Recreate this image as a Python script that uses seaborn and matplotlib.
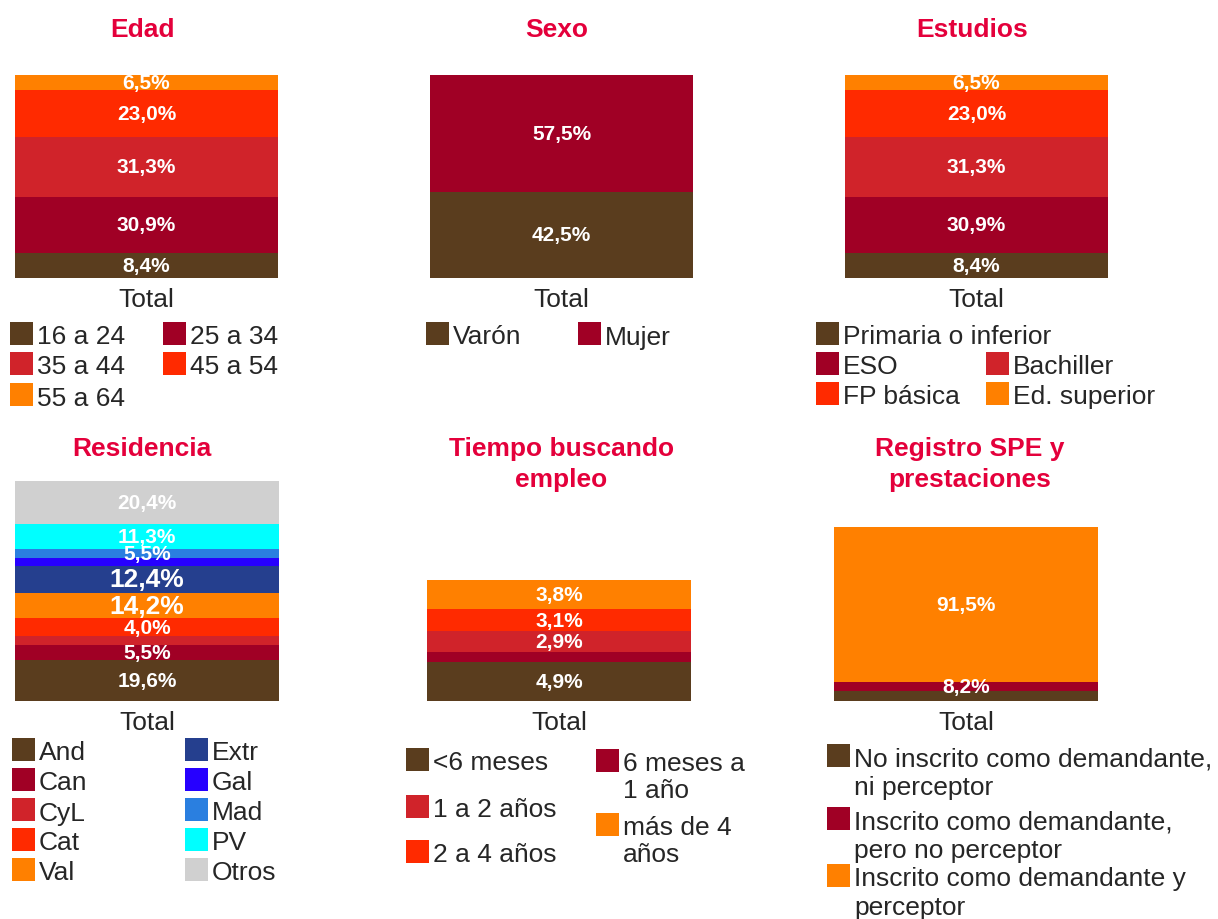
import matplotlib
matplotlib.use("Agg")
import matplotlib.pyplot as plt
from matplotlib.patches import Rectangle
import seaborn as sns
import pandas as pd
import numpy as np

# Colours
BROWN = "#5A3D1E"
DARKRED = "#A00025"
RED = "#D0232A"
ORANGERED = "#FF2A00"
ORANGE = "#FF8000"
NAVY = "#253F8E"
BLUE = "#2600FF"
MAD = "#2A7FE0"
CYAN = "#00FFFF"
GRAY = "#D0D0D0"
TITLE = "#E4003B"
TEXT = "#262626"

# Data (segment heights, labels as printed)
edad_cats = ["16 a 24", "25 a 34", "35 a 44", "45 a 54", "55 a 64"]
edad_vals = [12.3, 27.6, 29.5, 23.2, 7.4]
edad_labels = ["8,4%", "30,9%", "31,3%", "23,0%", "6,5%"]

sexo_cats = ["Varón", "Mujer"]
sexo_vals = [42.5, 57.5]
sexo_labels = ["42,5%", "57,5%"]

estudios_cats = ["Primaria o inferior", "ESO", "Bachiller", "FP básica", "Ed. superior"]
estudios_vals = [12.3, 27.6, 29.5, 23.2, 7.4]
estudios_labels = ["8,4%", "30,9%", "31,3%", "23,0%", "6,5%"]

res_cats = ["And", "Can", "CyL", "Cat", "Val", "Extr", "Gal", "Mad", "PV", "Otros"]
res_vals = [18.6, 6.8, 4.1, 8.2, 11.4, 12.3, 3.6, 4.1, 11.4, 19.5]
res_labels = ["19,6%", "5,5%", "", "4,0%", "14,2%", "12,4%", "", "5,5%", "11,3%", "20,4%"]

tiempo_cats = ["<6 meses", "6 meses a\n1 año", "1 a 2 años", "2 a 4 años", "más de 4\naños"]
tiempo_vals = [17.7, 4.5, 9.5, 10.0, 13.2]
tiempo_labels = ["4,9%", "", "2,9%", "3,1%", "3,8%"]

spe_cats = ["No inscrito como demandante,\nni perceptor",
            "Inscrito como demandante,\npero no perceptor",
            "Inscrito como demandante y\nperceptor"]
spe_vals = [4.5, 4.1, 70.5]
spe_labels = ["", "8,2%", "91,5%"]

five_colors = [BROWN, DARKRED, RED, ORANGERED, ORANGE]
res_colors = [BROWN, DARKRED, RED, ORANGERED, ORANGE, NAVY, BLUE, MAD, CYAN, GRAY]

sns.set_theme(style="white")
plt.rcParams["font.family"] = ["Liberation Sans", "DejaVu Sans"]

W, H = 1218, 920
fig = plt.figure(figsize=(W / 100, H / 100), dpi=100)


def px_axes(left, top, width, height):
    return fig.add_axes([left / W, 1 - (top + height) / H, width / W, height / H])


def stacked(ax, cats, vals, colors, labels, big=()):
    df = pd.DataFrame({"grupo": "Total", "cat": cats, "pct": vals})
    sns.histplot(data=df, x="grupo", weights="pct", hue="cat",
                 hue_order=cats[::-1], palette=dict(zip(cats, colors)),
                 multiple="stack", discrete=True, shrink=1, alpha=1,
                 linewidth=0, edgecolor="none", legend=False, ax=ax)
    ax.set_xlim(-0.5, 0.5)
    ax.set_ylim(0, 100)
    ax.set_xticks([0])
    ax.set_xticklabels(["Total"])
    ax.set_yticks([])
    ax.set_xlabel("")
    ax.set_ylabel("")
    ax.tick_params(axis="x", length=0, pad=6.5, labelsize=19, labelcolor=TEXT)
    sns.despine(ax=ax, left=True, bottom=True)
    bottoms = np.cumsum([0] + vals[:-1])
    for b, v, lab in zip(bottoms, vals, labels):
        if lab:
            ax.text(0, b + v / 2, lab, ha="center", va="center", color="white",
                    fontweight="bold", fontsize=19 if lab in big else 15)


def title(x, baselines, lines):
    for y, line in zip(baselines, lines):
        fig.text(x / W, 1 - y / H, line, ha="center", va="baseline",
                 color=TITLE, fontweight="bold", fontsize=19)


def legend(cats, colors, positions, step=28):
    for cat, col, (x, y) in zip(cats, colors, positions):
        fig.add_artist(Rectangle((x / W, 1 - (y + 23) / H), 23 / W, 23 / H,
                                 transform=fig.transFigure, facecolor=col,
                                 edgecolor="none"))
        for i, line in enumerate(cat.split("\n")):
            fig.text((x + 27) / W, 1 - (y + 21.5 + i * step) / H, line,
                     ha="left", va="baseline", color=TEXT, fontsize=19)


# Top row
stacked(px_axes(15, 76, 263, 202.7), edad_cats, edad_vals, five_colors, edad_labels)
stacked(px_axes(430, 76, 263, 202.7), sexo_cats, sexo_vals, [BROWN, DARKRED], sexo_labels)
stacked(px_axes(845, 76, 263, 202.7), estudios_cats, estudios_vals, five_colors, estudios_labels)

# Bottom row
stacked(px_axes(15, 482, 264, 220), res_cats, res_vals, res_colors, res_labels,
        big=("12,4%", "14,2%"))
stacked(px_axes(427, 482, 264, 220), tiempo_cats, tiempo_vals, five_colors, tiempo_labels)
stacked(px_axes(834, 482, 264, 220), spe_cats, spe_vals, [BROWN, DARKRED, ORANGE], spe_labels)

# Titles
title(142.5, [37], ["Edad"])
title(557, [37], ["Sexo"])
title(972, [37], ["Estudios"])
title(142, [456], ["Residencia"])
title(561.5, [456, 487], ["Tiempo buscando", "empleo"])
title(970, [456, 487], ["Registro SPE y", "prestaciones"])

# Legends
legend(edad_cats, five_colors, [(10, 323), (163, 323), (10, 353), (163, 353), (10, 384)])
legend(sexo_cats, [BROWN, DARKRED], [(426, 323), (578, 323)])
legend(estudios_cats, five_colors, [(816, 323), (816, 353), (986, 353), (816, 383), (986, 383)])
legend(res_cats, res_colors,
       [(12, 739), (12, 769), (12, 799), (12, 829), (12, 859),
        (185, 739), (185, 769), (185, 799), (185, 829), (185, 859)])
legend(tiempo_cats, five_colors, [(406, 749), (596, 750), (406, 796), (406, 841), (596, 814)], step=27)
legend(spe_cats, [BROWN, DARKRED, ORANGE], [(827, 745), (827, 808), (827, 865)], step=29)

fig.savefig("out.png", dpi=100)
